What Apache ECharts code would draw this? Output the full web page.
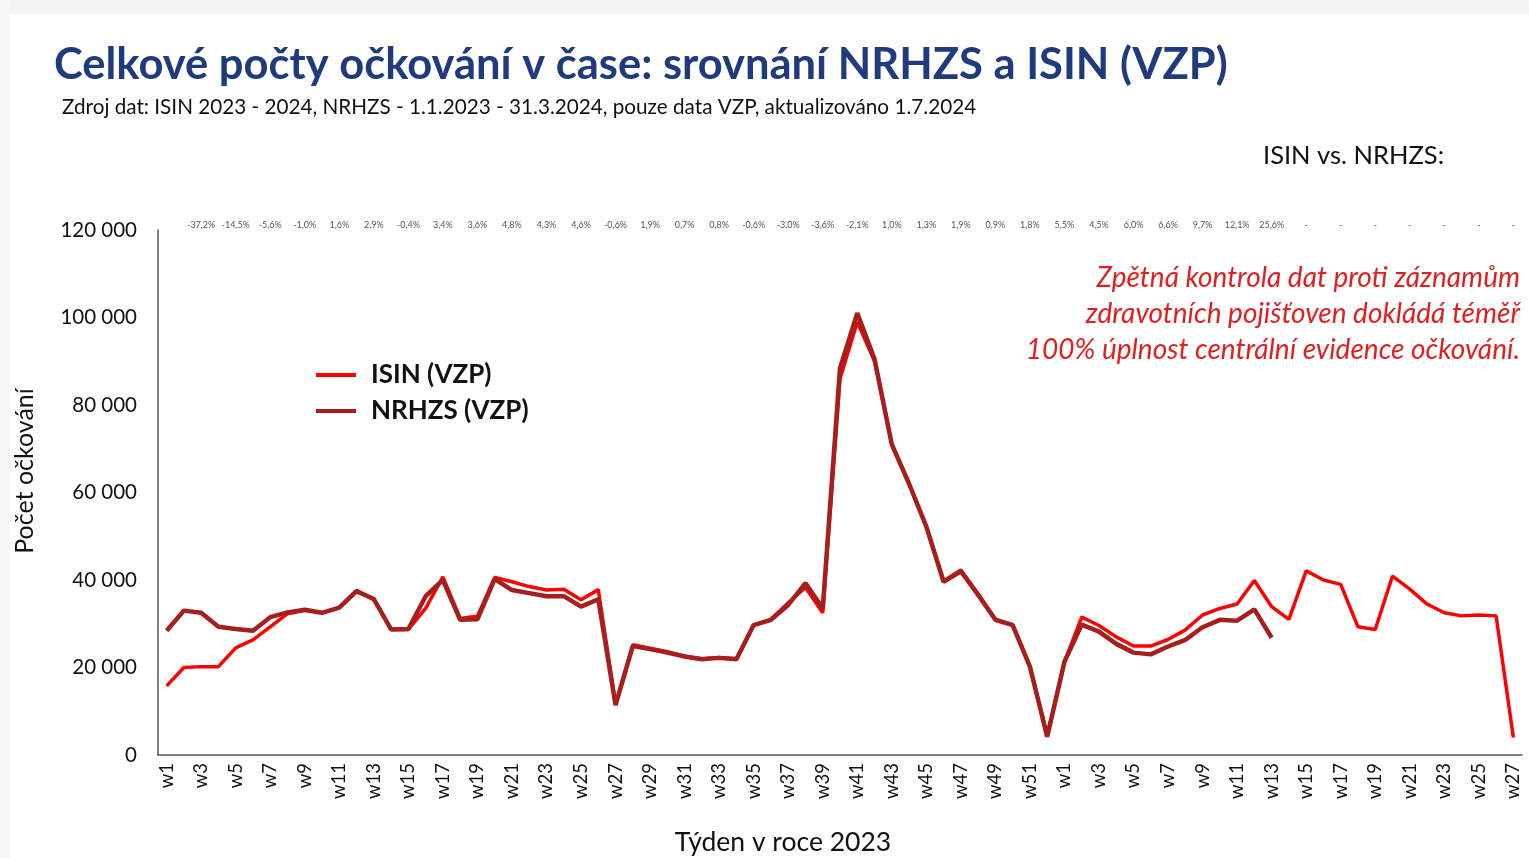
<!DOCTYPE html>
<html>
<head>
<meta charset="utf-8">
<script src="https://cdn.jsdelivr.net/npm/echarts@6/dist/echarts.min.js"></script>
<style>
  html, body { margin: 0; padding: 0; background: #fff; }
  #chart { width: 1529px; height: 858px; }
</style>
</head>
<body>
<div id="chart"></div>
<script>
const weeks = [
  'w1','w2','w3','w4','w5','w6','w7','w8','w9','w10','w11','w12','w13','w14','w15','w16','w17','w18','w19','w20',
  'w21','w22','w23','w24','w25','w26','w27','w28','w29','w30','w31','w32','w33','w34','w35','w36','w37','w38','w39','w40',
  'w41','w42','w43','w44','w45','w46','w47','w48','w49','w50','w51','w52',
  'w1','w2','w3','w4','w5','w6','w7','w8','w9','w10','w11','w12','w13','w14','w15','w16','w17','w18','w19','w20',
  'w21','w22','w23','w24','w25','w26','w27'
];

const isin = [
  15800, 20000, 20200, 20200, 24500, 26300, 29300, 32300, 33100, 32500,
  33700, 37300, 35800, 28700, 28700, 33500, 40700, 31200, 31700, 40600,
  39600, 38500, 37700, 37900, 35500, 37800, 11600, 25200, 24400, 23600,
  22600, 22000, 22300, 22000, 29700, 31000, 34800, 38300, 32500, 86000,
  99000, 90000, 71000, 62000, 52200, 39700, 42300, 36800, 31000, 29800,
  20200, 4300, 21300, 31500, 29600, 27000, 24900, 24900, 26400, 28600,
  32000, 33500, 34500, 39900, 33900, 31000, 42100, 40000, 39000, 29300,
  28700, 40900, 37900, 34500, 32500, 31800, 32000, 31800, 4000
];

const nrhzs = [
  28400, 33000, 32500, 29300, 28800, 28400, 31500, 32600, 33200, 32500,
  33700, 37500, 35600, 28700, 28800, 36300, 40000, 30900, 31000, 40200,
  37700, 37000, 36300, 36300, 33900, 35600, 11400, 24900, 24200, 23400,
  22500, 21900, 22200, 21900, 29700, 30900, 34300, 39300, 33500, 88400,
  101000, 90500, 71000, 62000, 52200, 39600, 42000, 36600, 30900, 29700,
  20200, 4200, 21300, 29800, 28200, 25400, 23400, 23000, 24800, 26300,
  29200, 30900, 30700, 33300, 26800
];

// ISIN vs. NRHZS, shown above every second week starting at w3
const pctLabels = [
  '-37,2%', '-14,5%', '-5,6%', '-1,0%', '1,6%', '2,9%', '-0,4%', '3,4%', '3,6%', '4,8%',
  '4,3%', '4,6%', '-0,6%', '1,9%', '0,7%', '0,8%', '-0,6%', '-3,0%', '-3,6%', '-2,1%',
  '1,0%', '1,3%', '1,9%', '0,9%', '1,8%', '5,5%', '4,5%', '6,0%', '6,6%', '9,7%',
  '12,1%', '25,6%', '-', '-', '-', '-', '-', '-', '-'
];

const noteLines = [
  'Zpětná kontrola dat proti záznamům',
  'zdravotních pojišťoven dokládá téměř',
  '100% úplnost centrální evidence očkování.'
];

const topLabels = weeks.map((w, i) => (i >= 2 && i % 2 === 0) ? (pctLabels[(i - 2) / 2] || '') : '');

const chart = echarts.init(document.getElementById('chart'));
const font = 'Lato, "Open Sans", sans-serif';

const noteTexts = noteLines.map((t, i) => ({
  type: 'text', x: 1520, y: 278 + i * 36,
  style: { text: t, fontSize: 28, fontStyle: 'italic', fill: '#e02020', align: 'right', verticalAlign: 'middle', fontFamily: font }
}));

const option = {
  backgroundColor: '#ffffff',
  textStyle: { fontFamily: font },
  animation: false,
  graphic: [
    { type: 'rect', left: 0, top: 0, shape: { width: 1529, height: 14 }, style: { fill: '#f3f3f3' }, silent: true },
    { type: 'rect', left: 0, top: 0, shape: { width: 10, height: 858 }, style: { fill: '#f7f7f7' }, silent: true },
    {
      type: 'text', left: 54, top: 43,
      style: { text: 'Celkové počty očkování v čase: srovnání NRHZS a ISIN (VZP)', fontSize: 43.5, fontWeight: 'bold', fill: '#1f3a7d', fontFamily: font }
    },
    {
      type: 'text', left: 62, top: 97,
      style: { text: 'Zdroj dat: ISIN 2023 - 2024, NRHZS - 1.1.2023 - 31.3.2024, pouze data VZP, aktualizováno 1.7.2024', fontSize: 20.7, fill: '#111', fontFamily: font }
    },
    {
      type: 'text', left: 1263, top: 143,
      style: { text: 'ISIN vs. NRHZS:', fontSize: 25.5, fill: '#111', fontFamily: font }
    },
    ...noteTexts,
    {
      type: 'text', x: 25, y: 471, rotation: Math.PI / 2,
      style: { text: 'Počet očkování', fontSize: 25, fill: '#111', align: 'center', verticalAlign: 'middle', fontFamily: font }
    },
    {
      type: 'text', x: 783, y: 842,
      style: { text: 'Týden v roce 2023', fontSize: 26.5, fill: '#111', align: 'center', verticalAlign: 'middle', fontFamily: font }
    }
  ],
  legend: {
    left: 311, top: 357,
    orient: 'vertical',
    itemWidth: 40, itemHeight: 4, itemGap: 10,
    textStyle: { fontSize: 26, fontWeight: 'bold', color: '#111', fontFamily: font, padding: [0, 0, 0, 10] },
    data: [
      { name: 'ISIN (VZP)', icon: 'rect', itemStyle: { color: '#ff0000' } },
      { name: 'NRHZS (VZP)', icon: 'rect', itemStyle: { color: '#a61f1f' } }
    ]
  },
  grid: { left: 158, right: 7, top: 230, bottom: 103 },
  xAxis: [
    {
      type: 'category',
      data: weeks,
      boundaryGap: true,
      axisLine: { lineStyle: { color: '#555', width: 1.5 } },
      axisTick: { show: false },
      axisLabel: { interval: 1, rotate: 90, fontSize: 18.5, color: '#111', margin: 8, fontFamily: font }
    },
    {
      type: 'category',
      data: topLabels,
      position: 'top',
      boundaryGap: true,
      axisLine: { show: false },
      axisTick: { show: false },
      axisLabel: { interval: 0, fontSize: 9, color: '#555', margin: 0, fontFamily: font }
    }
  ],
  yAxis: {
    type: 'value',
    min: 0, max: 120000, interval: 20000,
    axisLine: { show: true, lineStyle: { color: '#555', width: 1.5 } },
    axisTick: { show: false },
    splitLine: { show: false },
    axisLabel: {
      fontSize: 20.5, color: '#111', margin: 21, fontFamily: font,
      formatter: v => v === 0 ? '0' : String(v).replace(/\B(?=(\d{3})+(?!\d))/g, ' ')
    }
  },
  series: [
    {
      name: 'ISIN (VZP)', type: 'line', data: isin,
      symbol: 'none', lineStyle: { color: '#ff0000', width: 3.5 }, itemStyle: { color: '#ff0000' }
    },
    {
      name: 'NRHZS (VZP)', type: 'line', data: nrhzs,
      symbol: 'none', lineStyle: { color: '#a61f1f', width: 4.5 }, itemStyle: { color: '#a61f1f' }
    }
  ]
};

chart.setOption(option);
window.addEventListener('resize', () => chart.resize());
</script>
</body>
</html>
